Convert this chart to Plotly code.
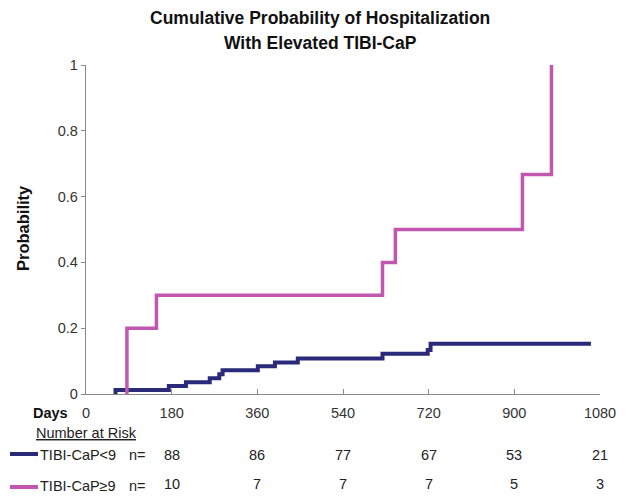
import plotly.graph_objects as go

# ---- data ----
low_times = [62, 174, 210, 260, 280, 287, 361, 397, 445, 623, 718, 724]
low_probs = [0.012, 0.024, 0.036, 0.048, 0.060, 0.072, 0.084, 0.096, 0.108, 0.122, 0.134, 0.153]
low_end = 1061
high_times = [86, 148, 623, 650, 917, 978]
high_probs = [0.2, 0.3, 0.4, 0.5, 0.667, 1.0]
tick_days = [0, 180, 360, 540, 720, 900, 1080]
risk_days = [180, 360, 540, 720, 900, 1080]
risk_low = [88, 86, 77, 67, 53, 21]
risk_high = [10, 7, 7, 7, 5, 3]
y_ticks = [0, 0.2, 0.4, 0.6, 0.8, 1]
y_ticklabels = ["0", "0.2", "0.4", "0.6", "0.8", "1"]
label_low = "TIBI-CaP<9"
label_high = "TIBI-CaP≥9"

NAVY = "#2B2A7A"
PINK = "#C157B0"
FONT = "Liberation Sans, Arial, sans-serif"

x_low = [low_times[0]] + low_times + [low_end]
y_low = [0] + low_probs + [low_probs[-1]]
x_high = [high_times[0]] + high_times
y_high = [0] + high_probs

fig = go.Figure()
fig.add_trace(go.Scatter(x=x_low, y=y_low, mode="lines", line=dict(color=NAVY, width=4, shape="hv"),
                         showlegend=False, hoverinfo="skip"))
fig.add_trace(go.Scatter(x=x_high, y=y_high, mode="lines", line=dict(color=PINK, width=3.5, shape="hv"),
                         showlegend=False, hoverinfo="skip"))

L, R, T, B = 86, 29, 65, 108
W, H = 629, 502
pw = W - L - R
ph = H - T - B

def px_x(px):
    return (px - L) / pw

def px_y(py):
    return (H - B - py) / ph

def txt(text, px, py, size=14.5, anchor="left", color="#222", angle=0, xdata=None):
    d = dict(text=text, x=(xdata if xdata is not None else px_x(px)),
             xref=("x" if xdata is not None else "paper"), y=px_y(py), yref="paper",
             xanchor=anchor, yanchor="middle", showarrow=False, textangle=angle,
             font=dict(family=FONT, size=size, color=color))
    return d

ann = []
ann.append(txt("<b>Cumulative Probability of Hospitalization</b>", 320, 18, size=17.5, anchor="center", color="#111"))
ann.append(txt("<b>With Elevated TIBI-CaP</b>", 320, 43, size=17.5, anchor="center", color="#111"))
ann.append(txt("<b>Probability</b>", 23, 228, size=16.5, anchor="center", color="#111", angle=-90))
ann.append(txt("<b>Days</b>", 31, 413, size=14.5, color="#111"))
ann.append(txt("<u>Number at Risk</u>", 34, 433))
ann.append(txt(label_low, 38, 455))
ann.append(txt("n=", 127, 455))
ann.append(txt(label_high, 38, 486))
ann.append(txt("n=", 127, 486))
for d, n in zip(risk_days, risk_low):
    ann.append(txt(str(n), None, 455, anchor="center", xdata=d))
for d, n in zip(risk_days, risk_high):
    ann.append(txt(str(n), None, 484, anchor="center", xdata=d))

shapes = [
    dict(type="line", xref="paper", yref="paper", x0=px_x(10), x1=px_x(38), y0=px_y(454), y1=px_y(454),
         line=dict(color=NAVY, width=4)),
    dict(type="line", xref="paper", yref="paper", x0=px_x(10), x1=px_x(38), y0=px_y(487), y1=px_y(487),
         line=dict(color=PINK, width=4)),
]

fig.update_layout(
    width=W, height=H,
    margin=dict(l=L, r=R, t=T, b=B, autoexpand=False),
    paper_bgcolor="white", plot_bgcolor="white",
    annotations=ann, shapes=shapes,
    xaxis=dict(range=[0, 1080], tickvals=tick_days, ticktext=[str(t) for t in tick_days],
               showgrid=False, zeroline=False, showline=True, linecolor="#8a8a8a", linewidth=1.3,
               ticks="inside", ticklen=5, tickcolor="#8a8a8a",
               tickfont=dict(family=FONT, size=14.5, color="#333"), ticklabelstandoff=5),
    yaxis=dict(range=[0, 1], tickvals=y_ticks, ticktext=y_ticklabels,
               showgrid=False, zeroline=False, showline=True, linecolor="#8a8a8a", linewidth=1.3,
               ticks="outside", ticklen=4, tickcolor="#8a8a8a",
               tickfont=dict(family=FONT, size=14.5, color="#333")),
)

fig.write_html("out.html", config={"displayModeBar": False},
               post_script="document.body.style.margin='0';")
